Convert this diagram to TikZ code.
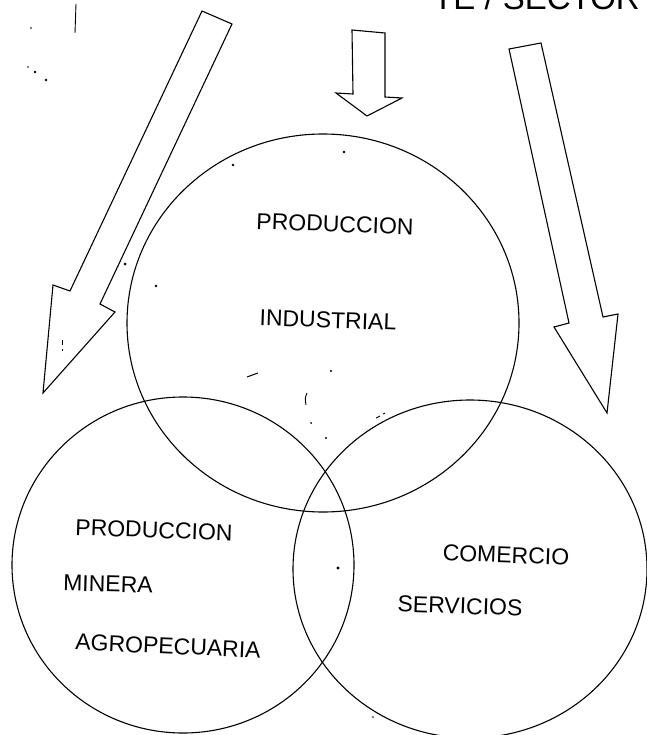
\documentclass[tikz,border=0pt]{standalone}
\usepackage{fontspec}
\setmainfont{Liberation Sans}
\begin{document}
\begin{tikzpicture}[x=1pt,y=-1pt,
  ln/.style={line width=1.1pt, line join=miter},
  lbl/.style={inner sep=0pt, font=\fontsize{23}{27}\selectfont},
  speck/.style={fill=black}]
\useasboundingbox (0,0) rectangle (646,735);

% cut-off heading at the top edge
\node[anchor=base west, inner sep=0pt, font=\fontsize{33}{36}\selectfont] (head) at (433,10) {TE / SECTOR};

% circles
\draw[ln] (323,323) ellipse [x radius=196, y radius=189];
\draw[ln] (183,565) ellipse [x radius=171, y radius=168];
\draw[ln] (470,569) ellipse [x radius=177, y radius=169];

% block arrows
\draw[ln] (202,11) -- (232,24) -- (100,304) -- (115,312) -- (43,393) -- (53,285) -- (70,291) -- cycle;
\draw[ln] (352,30) -- (385,33) -- (385,97) -- (402,98) -- (367,116) -- (336,93) -- (353,94) -- cycle;
\draw[ln] (509,49) -- (541,43) -- (603,317) -- (618,314) -- (607,413) -- (554,327) -- (569,323) -- cycle;

% labels
\node[lbl, rotate=-2] (p1) at (335,224) {PRODUCCION};
\node[lbl, rotate=-2] (ind) at (328,320) {INDUSTRIAL};
\node[lbl, rotate=-2] (p2) at (154,530) {PRODUCCION};
\node[lbl, rotate=-1.5] (min) at (108,584) {MINERA};
\node[lbl, rotate=-2.5] (agr) at (168,646) {AGROPECUARIA};
\node[lbl, rotate=-2] (com) at (506,555) {COMERCIO};
\node[lbl, rotate=-2] (ser) at (460,606) {SERVICIOS};

% scan specks
\draw[line width=0.9pt] (76,4) -- (75,33);
\fill[speck] (35,72) circle (1.3) (46,80) circle (1.3) (28,67) circle (0.8) (31,28) circle (0.8);
\fill[speck] (233,165) circle (1.3) (344,152) circle (1.3) (156,286) circle (1.3) (125,264) circle (1.5);
\fill[speck] (331,371) circle (1.2) (311,423) circle (1) (326,438) circle (1.2) (338,568) circle (1.6) (373,717) circle (0.8);
\draw[line width=1pt] (247,377) -- (258,373);
\draw[line width=0.9pt] (307,393) .. controls (305,398) .. (306,405);
\draw[line width=0.9pt] (376,418) -- (380,416) (383,414) -- (385,413);
\draw[line width=0.8pt] (62,340) -- (62,345) (62,349) -- (62,351);
\end{tikzpicture}
\end{document}
